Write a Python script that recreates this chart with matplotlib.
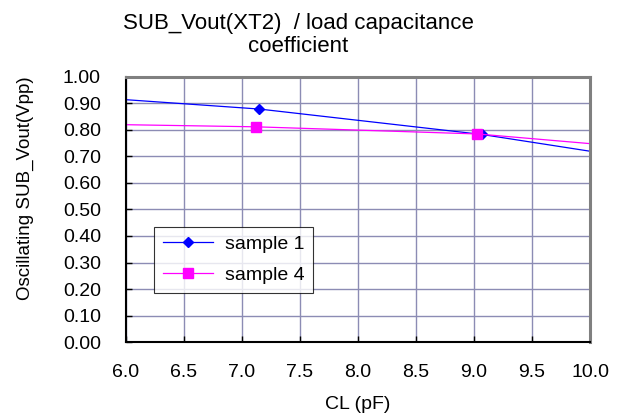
import matplotlib
matplotlib.use('Agg')
import matplotlib.pyplot as plt

# values (end points lie just outside the 6-10 pF axis)
cl_s1 = [5.0, 7.15, 9.07, 11.0]
vout_s1 = [0.945, 0.879, 0.783, 0.652]
cl_s4 = [5.0, 7.12, 9.03, 11.0]
vout_s4 = [0.827, 0.812, 0.785, 0.711]

x_ticks = [6.0, 6.5, 7.0, 7.5, 8.0, 8.5, 9.0, 9.5, 10.0]
y_ticks = [0.0, 0.1, 0.2, 0.3, 0.4, 0.5, 0.6, 0.7, 0.8, 0.9, 1.0]

plt.rcParams['font.family'] = ['Liberation Sans', 'DejaVu Sans']

fig = plt.figure(figsize=(6.29, 4.2), dpi=100)
ax = fig.add_axes([0.2003, 0.1857, 0.7377, 0.631])

ax.plot(cl_s1, vout_s1, color='#0000ff', lw=0.9, marker='D', markersize=5.5,
        label='sample 1')
ax.plot(cl_s4, vout_s4, color='#ff00ff', lw=0.9, marker='s', markersize=6.5,
        label='sample 4')

ax.set_xlim(6.0, 10.0)
ax.set_ylim(0.0, 1.0)
ax.set_xticks(x_ticks)
ax.set_yticks(y_ticks)
ax.set_xticklabels([f'{v:.1f}' for v in x_ticks], fontsize=14)
ax.set_yticklabels([f'{v:.2f}' for v in y_ticks], fontsize=14)
ax.tick_params(direction='in', length=4, width=1, colors='black')
ax.tick_params(axis='x', pad=16)
ax.tick_params(axis='y', pad=18)

ax.grid(True, color='#8c8cb4', lw=1)
ax.set_axisbelow(True)

for side in ('top', 'right'):
    ax.spines[side].set_color('#808080')
    ax.spines[side].set_linewidth(2.2)
for side in ('left', 'bottom'):
    ax.spines[side].set_color('black')
    ax.spines[side].set_linewidth(1.5)

ax.set_xlabel('CL (pF)', fontsize=14)
ax.set_ylabel('Oscillating SUB_Vout(Vpp)', fontsize=13.5)
ax.xaxis.set_label_coords(0.5, -0.205)
ax.yaxis.set_label_coords(-0.198, 0.58)

fig.text(0.474, 0.968, 'SUB_Vout(XT2)  / load capacitance\ncoefficient',
         ha='center', va='top', fontsize=16, linespacing=1.12)

leg = ax.legend(loc='lower left', bbox_to_anchor=(0.06, 0.185), fontsize=14,
                frameon=True, fancybox=False, borderpad=0.45,
                handlelength=2.6, handletextpad=0.6, labelspacing=0.7,
                borderaxespad=0)
leg.get_frame().set_edgecolor('black')
leg.get_frame().set_linewidth(0.8)

fig.savefig('out.png', dpi=100)
